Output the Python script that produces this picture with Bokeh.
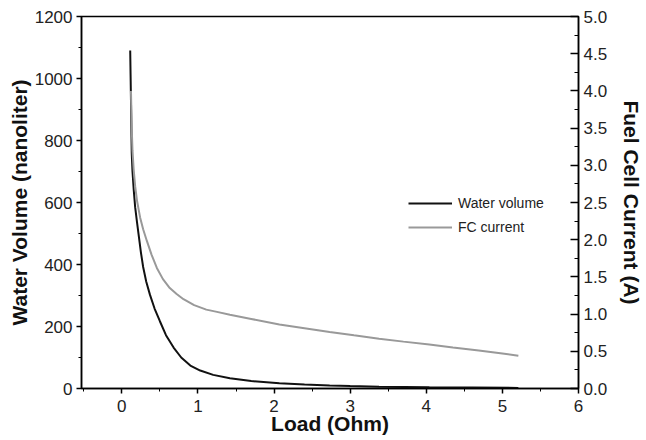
from bokeh.plotting import figure
from bokeh.models import (Range1d, LinearAxis, SingleIntervalTicker,
                          PrintfTickFormatter, Legend, LegendItem)
from bokeh.embed import file_html
from bokeh.resources import INLINE

# ---- data ----
load_water = [0.11, 0.115, 0.12, 0.125, 0.13, 0.14, 0.155, 0.175, 0.2, 0.22,
              0.25, 0.28, 0.32, 0.37, 0.43, 0.5, 0.58, 0.68, 0.78, 0.9,
              1.03, 1.2, 1.42, 1.7, 2.07, 2.4, 2.73, 3.0, 3.38, 4.04, 4.6, 5.21]
water_volume = [1090, 1010, 930, 840, 760, 700, 645, 585, 535, 497,
                440, 392, 345, 302, 258, 217, 172, 132, 100, 74,
                58, 44, 33, 24, 17, 13, 10, 8, 6, 4, 3, 2]

load_fc = [0.12, 0.125, 0.13, 0.14, 0.155, 0.175, 0.2, 0.24, 0.28, 0.33,
           0.39, 0.46, 0.54, 0.63, 0.72, 0.81, 0.95, 1.11, 1.25, 1.42,
           1.7, 2.07, 2.4, 2.73, 3.05, 3.38, 3.7, 4.04, 4.35, 4.69, 5.0, 5.21]
fc_current = [4.0, 3.75, 3.5, 3.2, 2.95, 2.72, 2.52, 2.3, 2.14, 1.98,
              1.8, 1.62, 1.47, 1.35, 1.27, 1.2, 1.12, 1.06, 1.03, 0.99,
              0.935, 0.86, 0.81, 0.76, 0.715, 0.67, 0.63, 0.59, 0.55, 0.51, 0.47, 0.44]

series_names = ["Water volume", "FC current"]
x_label = "Load (Ohm)"
y_left_label = "Water Volume (nanoliter)"
y_right_label = "Fuel Cell Current (A)"

FONT = "Liberation Sans"
LABEL_SIZE = "21px"
TICK_SIZE = "17px"

p = figure(width=646, height=440, output_backend="svg", toolbar_location=None,
           x_range=Range1d(-0.53, 6.0), y_range=Range1d(0, 1200),
           min_border_left=81, min_border_right=65, min_border_top=16,
           min_border_bottom=52)
p.extra_y_ranges = {"cur": Range1d(0, 5)}
p.grid.visible = False
p.outline_line_color = "black"
p.outline_line_width = 1.5
p.background_fill_color = "white"
p.border_fill_color = "white"

# bottom axis
xa = p.xaxis[0]
xa.ticker = SingleIntervalTicker(interval=1, num_minor_ticks=2)
xa.axis_label = x_label
xa.axis_label_text_font = FONT
xa.axis_label_text_font_style = "bold"
xa.axis_label_text_font_size = LABEL_SIZE
xa.axis_label_text_color = "#111111"
xa.axis_label_standoff = -3
xa.major_label_text_font = FONT
xa.major_label_text_font_size = TICK_SIZE
xa.major_label_text_color = "#222222"
xa.major_label_standoff = 6
xa.axis_line_width = 1.5
xa.major_tick_out = 5
xa.major_tick_in = 0
xa.minor_tick_out = 3
xa.minor_tick_in = 0
xa.major_tick_line_width = 1.5

# left axis
ya = p.yaxis[0]
ya.ticker = SingleIntervalTicker(interval=200, num_minor_ticks=2)
ya.axis_label = y_left_label
ya.axis_label_text_font = FONT
ya.axis_label_text_font_style = "bold"
ya.axis_label_text_font_size = LABEL_SIZE
ya.axis_label_text_color = "#111111"
ya.axis_label_standoff = 1
ya.major_label_text_font = FONT
ya.major_label_text_font_size = TICK_SIZE
ya.major_label_text_color = "#222222"
ya.major_label_standoff = 4
ya.axis_line_width = 1.5
ya.major_tick_out = 5
ya.major_tick_in = 0
ya.minor_tick_out = 3
ya.minor_tick_in = 0
ya.major_tick_line_width = 1.5

# right axis
ra = LinearAxis(y_range_name="cur",
                ticker=SingleIntervalTicker(interval=0.5, num_minor_ticks=2),
                formatter=PrintfTickFormatter(format="%.1f"))
ra.axis_label = y_right_label
ra.axis_label_text_font = FONT
ra.axis_label_text_font_style = "bold"
ra.axis_label_text_font_size = LABEL_SIZE
ra.axis_label_text_color = "#111111"
ra.axis_label_standoff = 10
ra.major_label_text_font = FONT
ra.major_label_text_font_size = TICK_SIZE
ra.major_label_text_color = "#222222"
ra.major_label_standoff = 5
ra.axis_line_width = 1.5
ra.major_tick_in = 8
ra.major_tick_out = 0
ra.minor_tick_in = 4
ra.minor_tick_out = 0
ra.major_tick_line_width = 1.5
p.add_layout(ra, "right")

r_water = p.line(load_water, water_volume, line_color="#111111", line_width=2)
r_fc = p.line(load_fc, fc_current, y_range_name="cur",
              line_color="#999999", line_width=2)

legend = Legend(items=[LegendItem(label=series_names[0], renderers=[r_water]),
                       LegendItem(label=series_names[1], renderers=[r_fc])],
                location=(327, 151), orientation="vertical",
                glyph_width=44, glyph_height=20, label_height=20,
                label_standoff=6, spacing=4, padding=0, margin=0,
                label_text_font=FONT, label_text_font_size="14px",
                label_text_color="#222222",
                border_line_alpha=0, background_fill_alpha=0)
p.add_layout(legend)

open("out.html", "w").write(file_html(p, INLINE))
